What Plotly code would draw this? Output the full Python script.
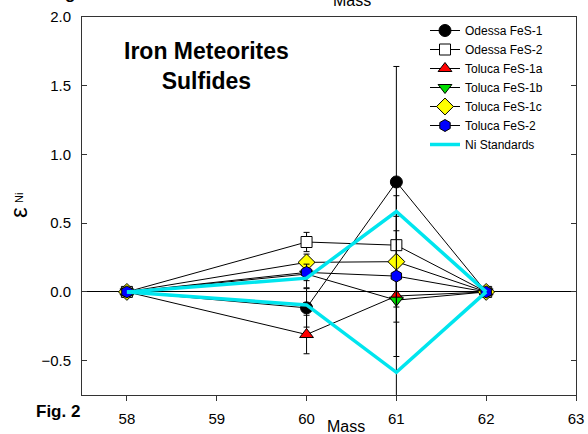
import plotly.graph_objects as go

mass = [58, 60, 61, 62]

names = ["Odessa FeS-1", "Odessa FeS-2", "Toluca FeS-1a", "Toluca FeS-1b", "Toluca FeS-1c", "Toluca FeS-2"]
odessa_1 = [0.0, -0.116, 0.80, 0.0]
odessa_1_err = [0.02, 0.14, 0.84, 0.02]
odessa_2 = [0.0, 0.363, 0.34, 0.0]
odessa_2_err = [0.02, 0.07, 0.105, 0.02]
toluca_1a = [0.0, -0.31, -0.03, 0.0]
toluca_1a_err = [0.02, 0.14, 0.85, 0.02]
toluca_1b = [0.0, 0.13, -0.06, 0.0]
toluca_1b_err = [0.02, 0.10, 0.16, 0.02]
toluca_1c = [0.0, 0.215, 0.22, 0.0]
toluca_1c_err = [0.02, 0.06, 0.33, 0.02]
toluca_2 = [0.0, 0.142, 0.115, 0.0]
toluca_2_err = [0.02, 0.06, 0.585, 0.02]

ni_std_upper = [0.0, 0.10, 0.585, 0.0]
ni_std_lower = [0.0, -0.095, -0.585, 0.0]

series = [odessa_1, odessa_2, toluca_1a, toluca_1b, toluca_1c, toluca_2]
errors = [odessa_1_err, odessa_2_err, toluca_1a_err, toluca_1b_err, toluca_1c_err, toluca_2_err]
symbols = ["circle", "square", "triangle-up", "triangle-down", "diamond", "hexagon"]
fills = ["black", "white", "red", "#00dd00", "yellow", "blue"]
sizes = [12, 11, 12, 12, 13, 12]

FONT = "Liberation Sans, Arial, sans-serif"

fig = go.Figure()
for nm, ys, es, sym, fc, sz in zip(names, series, errors, symbols, fills, sizes):
    fig.add_trace(go.Scatter(
        x=mass, y=ys, name=nm, mode="lines+markers",
        line=dict(color="black", width=1),
        marker=dict(symbol=sym, color=fc, size=sz, line=dict(color="black", width=1)),
        error_y=dict(type="data", array=es, visible=True, color="black", thickness=1, width=3),
        cliponaxis=True,
    ))

fig.add_trace(go.Scatter(
    x=mass, y=ni_std_upper, name="Ni Standards", mode="lines",
    line=dict(color="#00e5ee", width=3.5), showlegend=True,
))
fig.add_trace(go.Scatter(
    x=mass, y=ni_std_lower, name="Ni Standards", mode="lines",
    line=dict(color="#00e5ee", width=3.5), showlegend=False,
))

L, R, T, B = 82, 576, 17, 395
W, H = R - L, B - T


def px(x):
    return (x - L) / W


def py(y):
    return 1 - (y - T) / H


annotations = [
    dict(text="<b>Iron Meteorites<br>Sulfides</b>", x=px(206), y=py(66), xref="paper", yref="paper",
         showarrow=False, font=dict(family=FONT, size=23, color="black"), xanchor="center", yanchor="middle"),
    dict(text="<b>Fig. 2</b>", x=px(58), y=py(412), xref="paper", yref="paper",
         showarrow=False, font=dict(family=FONT, size=17, color="black"), xanchor="center", yanchor="middle"),
    dict(text="<b>Fig. 2</b>", x=px(72), y=py(-7), xref="paper", yref="paper",
         showarrow=False, font=dict(family=FONT, size=17, color="black"), xanchor="center", yanchor="middle"),
    dict(text="Mass", x=px(346), y=py(426), xref="paper", yref="paper",
         showarrow=False, font=dict(family=FONT, size=16, color="black"), xanchor="center", yanchor="middle"),
    dict(text="Mass", x=px(352), y=py(0), xref="paper", yref="paper",
         showarrow=False, font=dict(family=FONT, size=16, color="black"), xanchor="center", yanchor="middle"),
    dict(text="ε", x=px(18), y=py(213), xref="paper", yref="paper",
         showarrow=False, textangle=-90, font=dict(family=FONT, size=24, color="black"),
         xanchor="center", yanchor="middle"),
    dict(text="Ni", x=px(19), y=py(198), xref="paper", yref="paper",
         showarrow=False, textangle=-90, font=dict(family=FONT, size=11, color="black"),
         xanchor="center", yanchor="middle"),
]

fig.update_layout(
    width=588, height=434,
    margin=dict(l=L, r=588 - R, t=T, b=434 - B, autoexpand=False),
    paper_bgcolor="white", plot_bgcolor="white",
    font=dict(family=FONT, size=15, color="black"),
    showlegend=True,
    legend=dict(x=px(425), y=py(16), xanchor="left", yanchor="top", bgcolor="rgba(0,0,0,0)",
                font=dict(family=FONT, size=12, color="black"), itemwidth=30, tracegroupgap=0),
    annotations=annotations,
    xaxis=dict(range=[57.5, 63], tickvals=[58, 59, 60, 61, 62, 63], ticks="outside", ticklen=5,
               tickcolor="#333", showline=True, linecolor="#333", linewidth=1, mirror=True,
               showgrid=False, zeroline=False, tickfont=dict(size=15), ticklabelstandoff=5,
               automargin=False),
    yaxis=dict(range=[-0.75, 2.0], tickvals=[-0.5, 0.0, 0.5, 1.0, 1.5, 2.0], tickformat=".1f",
               ticks="inside", ticklen=5, tickcolor="#333", showline=True, linecolor="#333", linewidth=1,
               mirror="ticks", showgrid=False, zeroline=True, zerolinecolor="black", zerolinewidth=1,
               tickfont=dict(size=15), ticklabelstandoff=7, automargin=False),
)

fig.write_html("out.html", config={"displayModeBar": False},
               post_script="document.body.style.margin='0';document.body.style.overflow='hidden';")
